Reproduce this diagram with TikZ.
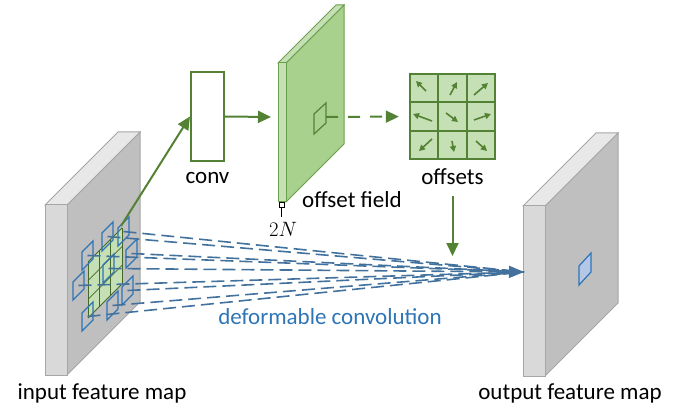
\documentclass[tikz,border=0pt]{standalone}
\usepackage{fontspec}
\setmainfont{Carlito}
\usetikzlibrary{arrows.meta,positioning}

\definecolor{dgreen}{RGB}{84,130,53}
\definecolor{mgreen}{RGB}{106,158,72}
\definecolor{lgreen}{RGB}{197,224,180}
\definecolor{fgreen}{RGB}{169,209,142}
\definecolor{dblue}{RGB}{65,113,156}
\definecolor{mblue}{RGB}{46,117,182}
\definecolor{lblue}{RGB}{180,199,231}

\begin{document}
\begin{tikzpicture}[x=1pt,y=-1pt,
    lbl/.style={font=\fontsize{23}{27}\selectfont,inner sep=0pt},
    gray front/.style={fill=black!15,draw=black!35,line width=1pt},
    gray top/.style={fill=black!9,draw=black!35,line width=1pt},
    gray side/.style={fill=black!25,draw=black!35,line width=1pt},
    green front/.style={fill=lgreen,draw=mgreen,line width=1pt},
    green top/.style={fill=lgreen,draw=mgreen,line width=1pt},
    green side/.style={fill=fgreen,draw=mgreen,line width=1pt},
    convbox/.style={draw=dgreen,fill=white,line width=2pt,minimum width=33pt,minimum height=89pt,inner sep=0pt},
    offbox/.style={fill=lgreen,minimum size=85pt,inner sep=0pt},
    garrow/.style={draw,color=dgreen,line width=2pt,-{Triangle[length=13pt,width=12pt]}},
    gdash/.style={garrow,dash pattern=on 12pt off 10pt},
    bdash/.style={draw,color=dblue,line width=1.6pt,dash pattern=on 13pt off 6pt},
    smp/.style={draw=mblue,line width=1.4pt},
    offarr/.style={draw,color=dgreen,line width=1.6pt,-{Triangle[length=6pt,width=6pt]}}]
  \newcommand{\slab}[6]{%
    \path[#6 side] (#1+#3,#2) -- ++(#5,-#5) -- ++(0,#4) -- ++(-#5,#5) -- cycle;
    \path[#6 top] (#1,#2) -- ++(#5,-#5) -- ++(#3,0) -- ++(-#5,#5) -- cycle;
    \path[#6 front] (#1,#2) rectangle ++(#3,#4);}
  \useasboundingbox (0,0) rectangle (678,409);

  % input feature map
  \slab{45}{205}{22}{170}{73}{gray}
  \fill[lgreen] (88,262) -- ++(34,-34) -- ++(0,56) -- ++(-34,34) -- cycle;
  \foreach \i in {0,...,3} {
    \draw[dgreen!80!black,line width=0.8pt] (88+\i*34/3,262-\i*34/3) -- ++(0,56);
    \draw[dgreen!80!black,line width=0.8pt] (88,262+\i*56/3) -- ++(34,-34);
  }
  \coordinate (ingrid) at (121,226);
  \foreach \n/\x/\y in {a/82/252,b/102/233,c/118/228,d/126/250,e/103/265,
                        f/73/282,g/122/287,h/107/302,i/82/313} {
    \draw[smp] (\x,\y) -- ++(11,-11) -- ++(0,18) -- ++(-11,11) -- cycle;
    \coordinate (s\n) at (\x+5.5,\y+3.5);
  }
  \node[lbl] (inlbl) at (102,393) {input feature map};

  % output feature map
  \slab{523}{206}{22}{170}{73}{gray}
  \draw[fill=lblue,draw=mblue,line width=1.2pt] (579,266) -- ++(12,-13) -- ++(0,19) -- ++(-12,13) -- cycle;
  \coordinate (hit) at (524,272);
  \node[lbl] (outlbl) at (570,393) {output feature map};

  % conv and offset field
  \node[convbox] (conv) at (207.5,116.5) {};
  \node[lbl] (convlbl) at (207.5,178) {conv};
  \slab{278}{63}{8}{139}{58}{green}
  \draw[draw=dgreen,line width=1.2pt] (314,114) -- ++(12,-11) -- ++(0,20) -- ++(-12,11) -- cycle;
  \coordinate (fsq) at (326,117);
  \coordinate (fin) at (271,117);
  \node[lbl,anchor=west] (fieldlbl) at (302,200) {offset field};
  \draw[line width=1pt,fill=white] (279,203) rectangle (284.5,208);
  \draw[line width=1.3pt] (281.75,208) -- (281.75,217);
  \node[inner sep=0pt,font=\fontsize{21}{25}\selectfont] (chan) at (283,229) {$2N$};

  % offsets
  \node[offbox] (offs) at (452.5,116.5) {};
  \foreach \c in {0,1,2}
    \foreach \r in {0,1,2}
      \draw[dgreen,line width=1.8pt] (410+28.33*\c,74+28.33*\r) rectangle ++(28.33,28.33);
  \foreach \tx/\ty/\hx/\hy in {426/91/416/81, 450/95/457/82, 474/95/488/83,
                               432/121/413/114, 446/113/458/122, 474/120/491/114,
                               432/139/419/151, 452/141/454/152, 476/141/487/151}
    \draw[offarr] (\tx,\ty) -- (\hx,\hy);
  \node[lbl] (offslbl) at (452.5,177) {offsets};
  \coordinate (mix) at (452.5,256);

  % connectors
  \path (ingrid) edge[garrow] (conv.west);
  \path (conv.east) edge[garrow] (fin);
  \path (fsq) edge[gdash,shorten >=11pt] (offs.west);
  \path (offslbl.south) edge[garrow,shorten <=11pt] (mix);
  \foreach \n in {a,b,c,d,f,g,h,i}
    \path (s\n) edge[bdash] (hit);
  \path (se) edge[bdash,-{Triangle[length=15pt,width=12pt]}] (hit);
  \node[lbl,text=mblue] (dclbl) at (330,317) {deformable convolution};
\end{tikzpicture}
\end{document}
